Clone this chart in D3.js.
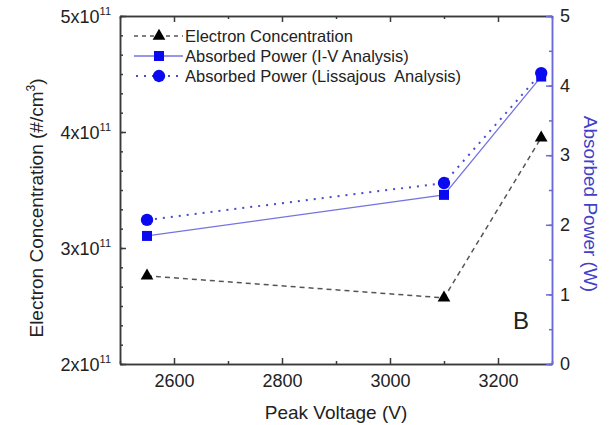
<!DOCTYPE html>
<html lang="en">
<head>
<meta charset="UTF-8">
<title>Electron Concentration and Absorbed Power vs Peak Voltage</title>
<script src="https://d3js.org/d3.v7.min.js"></script>
<style>
    body { margin: 0; background: #fff; }
    svg { font-family: "Liberation Sans", Arial, sans-serif; }
    .tick text { fill: #222; }
</style>
</head>
<body>
<svg width="616" height="425"></svg>
<script>
    // data
    const voltage = [2550, 3100, 3280];
    const electron = [2.76e11, 2.57e11, 3.95e11];
    const powerIV = [1.84, 2.43, 4.13];
    const powerLiss = [2.07, 2.60, 4.18];

    const xTicks = [2600, 2800, 3000, 3200];
    const xMinor = [2500, 2700, 2900, 3100, 3300];
    const leftTicks = [2e11, 3e11, 4e11, 5e11];
    const leftMinor = d3.range(0, 19).map(i => 2e11 + i * 1e11 / 6);
    const rightTicks = [0, 1, 2, 3, 4, 5];
    const rightMinor = d3.range(0, 11).map(i => i * 0.5);

    const legendLabels = ["Electron Concentration", "Absorbed Power (I-V Analysis)", "Absorbed Power (Lissajous  Analysis)"];

    const svg = d3.select("svg");
    const plotL = 120, plotR = 552, plotT = 16, plotB = 364;

    const x = d3.scaleLinear().domain([2500, 3300]).range([plotL, plotR]);
    const yL = d3.scaleLinear().domain([2e11, 5e11]).range([plotB, plotT]);
    const yR = d3.scaleLinear().domain([0, 5]).range([plotB, plotT]);

    const axisColor = "#3a3a3a";
    const blueAxis = "#6a6ad8";

    function styleAxis(g, color) {
        g.selectAll("path, line").attr("stroke", color).attr("stroke-width", 1.5);
    }

    // minor ticks
    svg.append("g").attr("transform", `translate(0,${plotB})`)
        .call(d3.axisBottom(x).tickValues(xMinor).tickSize(-3).tickSizeOuter(0).tickFormat(""))
        .call(g => styleAxis(g, axisColor));
    svg.append("g").attr("transform", `translate(0,${plotT})`)
        .call(d3.axisTop(x).tickValues(xMinor).tickSize(-3).tickSizeOuter(0).tickFormat(""))
        .call(g => styleAxis(g, axisColor));
    svg.append("g").attr("transform", `translate(${plotL},0)`)
        .call(d3.axisLeft(yL).tickValues(leftMinor).tickSize(-3).tickSizeOuter(0).tickFormat(""))
        .call(g => styleAxis(g, axisColor));
    svg.append("g").attr("transform", `translate(${plotR},0)`)
        .call(d3.axisRight(yR).tickValues(rightMinor).tickSize(-3).tickSizeOuter(0).tickFormat(""))
        .call(g => styleAxis(g, blueAxis));

    // major ticks + labels
    svg.append("g").attr("transform", `translate(0,${plotB})`)
        .call(d3.axisBottom(x).tickValues(xTicks).tickSize(-6).tickSizeOuter(0).tickPadding(10).tickFormat(d3.format("d")))
        .call(g => styleAxis(g, axisColor))
        .call(g => g.selectAll("text").attr("font-size", 18).attr("font-family", "Liberation Sans, Arial"));
    svg.append("g").attr("transform", `translate(0,${plotT})`)
        .call(d3.axisTop(x).tickValues(xTicks).tickSize(-6).tickSizeOuter(0).tickFormat(""))
        .call(g => styleAxis(g, axisColor));

    const leftAxis = svg.append("g").attr("transform", `translate(${plotL},0)`)
        .call(d3.axisLeft(yL).tickValues(leftTicks).tickSize(-6).tickSizeOuter(0).tickPadding(9).tickFormat(""))
        .call(g => styleAxis(g, axisColor));
    leftAxis.selectAll(".tick text")
        .attr("font-size", 18).attr("font-family", "Liberation Sans, Arial")
        .attr("dy", "0.35em")
        .each(function(d) {
            const t = d3.select(this);
            t.append("tspan").text(`${d / 1e11}x10`);
            t.append("tspan").attr("font-size", 11).attr("dy", "-0.75em").text("11");
        });

    svg.append("g").attr("transform", `translate(${plotR},0)`)
        .call(d3.axisRight(yR).tickValues(rightTicks).tickSize(-6).tickSizeOuter(0).tickPadding(8).tickFormat(d3.format("d")))
        .call(g => styleAxis(g, blueAxis))
        .call(g => g.selectAll("text").attr("font-size", 18).attr("font-family", "Liberation Sans, Arial"));

    // axis titles
    svg.append("text")
        .attr("x", (plotL + plotR) / 2).attr("y", 419)
        .attr("text-anchor", "middle").attr("font-size", 19).attr("fill", "#222")
        .text("Peak Voltage (V)");

    const lt = svg.append("text")
        .attr("transform", "translate(43,208) rotate(-90)")
        .attr("text-anchor", "middle").attr("font-size", 19).attr("fill", "#222");
    lt.append("tspan").text("Electron Concentration (#/cm");
    lt.append("tspan").attr("font-size", 12).attr("dy", "-0.7em").text("3");
    lt.append("tspan").attr("dy", "0.45em").text(")");

    svg.append("text")
        .attr("transform", "translate(584,204) rotate(90)")
        .attr("text-anchor", "middle").attr("font-size", 19).attr("fill", "#4040c8")
        .text("Absorbed Power (W)");

    // series
    const elecPts = voltage.map((v, i) => [x(v), yL(electron[i])]);
    const ivPts = voltage.map((v, i) => [x(v), yR(powerIV[i])]);
    const lissPts = voltage.map((v, i) => [x(v), yR(powerLiss[i])]);
    const line = d3.line();

    svg.append("path").attr("d", line(elecPts))
        .attr("fill", "none").attr("stroke", "#555").attr("stroke-width", 1.5)
        .attr("stroke-dasharray", "5,4");
    svg.append("path").attr("d", line(ivPts))
        .attr("fill", "none").attr("stroke", "#7474e0").attr("stroke-width", 1.3);
    svg.append("path").attr("d", line(lissPts))
        .attr("fill", "none").attr("stroke", "#4a4ad0").attr("stroke-width", 2)
        .attr("stroke-dasharray", "2,6");

    const tri = d3.symbol(d3.symbolTriangle, 70);
    const sq = d3.symbol(d3.symbolSquare, 100);
    const circ = d3.symbol(d3.symbolCircle, 120);

    svg.append("g").selectAll("path").data(elecPts).join("path")
        .attr("transform", d => `translate(${d[0]},${d[1]})`)
        .attr("d", tri).attr("fill", "#000");
    svg.append("g").selectAll("path").data(ivPts).join("path")
        .attr("transform", d => `translate(${d[0]},${d[1]})`)
        .attr("d", sq).attr("fill", "#0a0af0");
    svg.append("g").selectAll("path").data(lissPts).join("path")
        .attr("transform", d => `translate(${d[0]},${d[1]})`)
        .attr("d", circ).attr("fill", "#0a0af0");

    // legend
    const legendY = [36, 56, 76];
    const lg = svg.append("g");
    lg.append("line").attr("x1", 134).attr("x2", 183).attr("y1", legendY[0]).attr("y2", legendY[0])
        .attr("stroke", "#555").attr("stroke-width", 1.5).attr("stroke-dasharray", "4,4");
    lg.append("path").attr("transform", `translate(159,${legendY[0]})`).attr("d", tri).attr("fill", "#000");
    lg.append("line").attr("x1", 134).attr("x2", 183).attr("y1", legendY[1]).attr("y2", legendY[1])
        .attr("stroke", "#7474e0").attr("stroke-width", 1.3);
    lg.append("path").attr("transform", `translate(159,${legendY[1]})`).attr("d", sq).attr("fill", "#0a0af0");
    lg.append("line").attr("x1", 136).attr("x2", 183).attr("y1", legendY[2]).attr("y2", legendY[2])
        .attr("stroke", "#4a4ad0").attr("stroke-width", 2).attr("stroke-dasharray", "2,6");
    lg.append("path").attr("transform", `translate(159,${legendY[2]})`).attr("d", circ).attr("fill", "#0a0af0");

    lg.selectAll("text.leg").data(legendLabels).join("text")
        .attr("class", "leg")
        .attr("x", 185).attr("y", (d, i) => legendY[i] + 6)
        .attr("font-size", 16.5).attr("fill", "#222")
        .attr("xml:space", "preserve").style("white-space", "pre")
        .text(d => d);

    svg.append("text").attr("x", 521).attr("y", 329)
        .attr("text-anchor", "middle").attr("font-size", 24).attr("fill", "#222")
        .text("B");
</script>
</body>
</html>
